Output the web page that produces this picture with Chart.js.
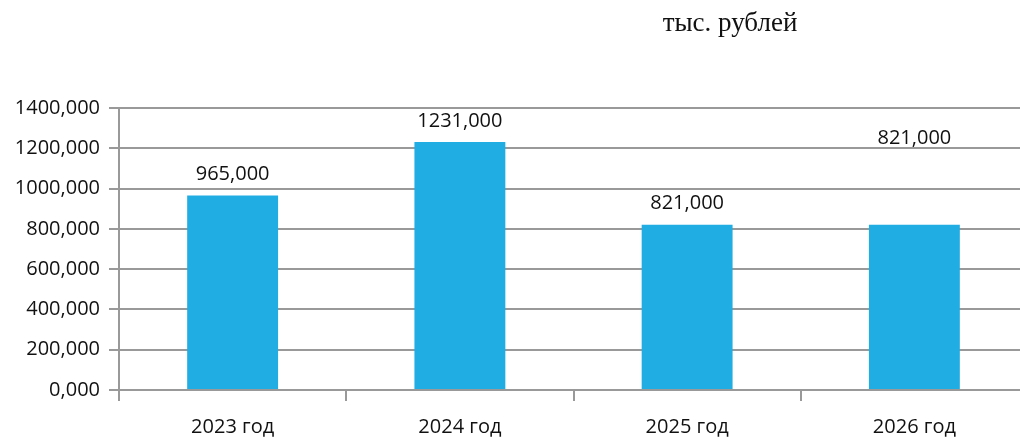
<!DOCTYPE html>
<html>
<head>
<meta charset="utf-8">
<script src="https://cdn.jsdelivr.net/npm/chart.js@4/dist/chart.umd.min.js"></script>
<style>
  html, body { margin: 0; padding: 0; background: #fff; overflow: hidden; }
  #wrap { position: relative; width: 1028px; height: 437px; }
</style>
</head>
<body>
<div id="wrap"><canvas id="c"></canvas></div>
<script>
"use strict";
const years = ["2023 год", "2024 год", "2025 год", "2026 год"];
const amounts = [965, 1231, 821, 821];
const yTicks = [0, 200, 400, 600, 800, 1000, 1200, 1400];
const unitTitle = "тыс. рублей";

const FONT = "'Open Sans', 'Noto Sans', sans-serif";
const fmt = (v) => Number(v).toFixed(3).replace(".", ",");

// value labels over the bars; the last one sits higher in the original
const valueLabels = {
  id: "valueLabels",
  afterDatasetsDraw(chart) {
    const { ctx } = chart;
    const meta = chart.getDatasetMeta(0);
    const lift = [0, 0, 0, 65];
    ctx.save();
    ctx.font = "20px " + FONT;
    ctx.fillStyle = "#111";
    ctx.textAlign = "center";
    ctx.textBaseline = "middle";
    meta.data.forEach((bar, i) => {
      ctx.fillText(fmt(amounts[i]), bar.x, bar.y - 21 - lift[i]);
    });
    ctx.restore();
  },
};

const unitLabel = {
  id: "unitLabel",
  afterDraw(chart) {
    const { ctx } = chart;
    ctx.save();
    ctx.font = "27px 'Liberation Serif', 'Times New Roman', serif";
    ctx.fillStyle = "#111";
    ctx.textAlign = "center";
    ctx.textBaseline = "alphabetic";
    ctx.fillText(unitTitle, 730, 31);
    ctx.restore();
  },
};

new Chart(document.getElementById("c"), {
  type: "bar",
  data: {
    labels: years,
    datasets: [{ data: amounts, backgroundColor: "#1fade4", barPercentage: 0.8, categoryPercentage: 0.5 }],
  },
  options: {
    responsive: true, maintainAspectRatio: false, animation: false,
    layout: { padding: { top: 108, left: 0, right: 0, bottom: 0 } },
    plugins: { legend: { display: false }, tooltip: { enabled: false } },
    scales: {
      x: {
        grid: { offset: true, drawOnChartArea: false, color: "#999", lineWidth: 2, tickLength: 11 },
        border: { color: "#999", width: 2 },
        ticks: { color: "#111", font: { family: FONT, size: 20 }, padding: 14 },
        afterFit: (s) => { s.height = 47; },
      },
      y: {
        min: 0, max: 1400,
        afterBuildTicks: (s) => { s.ticks = yTicks.map((v) => ({ value: v })); },
        grid: { color: "#999", lineWidth: 2, tickLength: 10 },
        border: { color: "#999", width: 2 },
        ticks: { color: "#111", font: { family: FONT, size: 20 }, padding: 9, callback: (v) => fmt(v) },
        afterFit: (s) => { s.width = 119; },
      },
    },
  },
  plugins: [valueLabels, unitLabel],
});
</script>
</body>
</html>
